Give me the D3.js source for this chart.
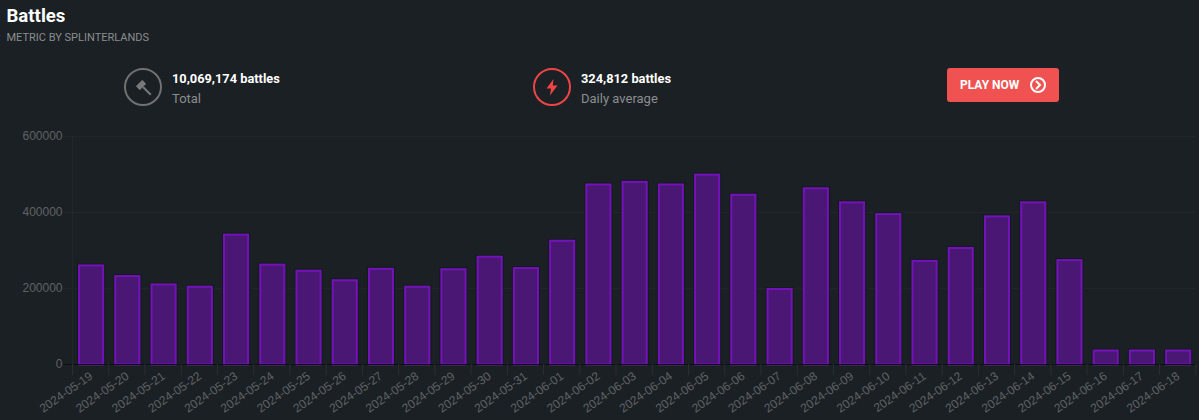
<!DOCTYPE html>
<html><head><meta charset="utf-8">
<script src="https://cdn.jsdelivr.net/npm/d3@7"></script>
<style>
html,body{margin:0;padding:0;background:#1b2024;overflow:hidden}
svg{display:block}
</style></head><body><svg id="c" width="1199" height="420"></svg>
<script>
const categories=["2024-05-19","2024-05-20","2024-05-21","2024-05-22","2024-05-23","2024-05-24","2024-05-25","2024-05-26","2024-05-27","2024-05-28","2024-05-29","2024-05-30","2024-05-31","2024-06-01","2024-06-02","2024-06-03","2024-06-04","2024-06-05","2024-06-06","2024-06-07","2024-06-08","2024-06-09","2024-06-10","2024-06-11","2024-06-12","2024-06-13","2024-06-14","2024-06-15","2024-06-16","2024-06-17","2024-06-18"];
const battles=[262000,234000,212000,206000,343000,264000,248000,223000,253000,206000,252000,285000,255000,327000,475000,482000,475000,501000,448000,200000,465000,428000,397000,274000,308000,391000,428000,276000,38000,38000,38000];
const yTicks=[0,200000,400000,600000];

const svg=d3.select("#c");
const roboto="Roboto, sans-serif", arial="'Liberation Sans', Arial, sans-serif";
const L=72.5,R=1195.8,T=136,B=364;
const x=d3.scaleBand().domain(categories).range([L,R]).paddingInner(0.28).paddingOuter(0.14);
const band=(R-L)/categories.length;
const y=d3.scaleLinear().domain([0,600000]).range([B,T]);

function text(xp,yp,s,size,weight,fill){
  return svg.append("text").attr("x",xp).attr("y",yp).text(s)
    .attr("font-family",roboto).attr("font-size",size).attr("font-weight",weight).attr("fill",fill);
}
text(6.5,22,"Battles",18.6,700,"#ffffff");
text(6.5,41,"METRIC BY SPLINTERLANDS",11,400,"#8a8d90");

// stat 1
svg.append("circle").attr("cx",143).attr("cy",87).attr("r",18).attr("fill","none").attr("stroke","#6f7173").attr("stroke-width",2);
const ham=svg.append("g").attr("transform","translate(143,87) rotate(-45)").attr("fill","#77797b");
ham.append("rect").attr("x",-4.5).attr("y",-5.5).attr("width",9).attr("height",5.5).attr("rx",.6);
ham.append("rect").attr("x",-1).attr("y",0).attr("width",2).attr("height",11);
text(172,83,"10,069,174 battles",12.8,700,"#ffffff");
text(172,103,"Total",13,400,"#8a8d90");

// stat 2
svg.append("circle").attr("cx",552).attr("cy",87).attr("r",18).attr("fill","none").attr("stroke","#ef4444").attr("stroke-width",2);
svg.append("path").attr("d","M553.5 79 L546.5 88.5 L551 88.5 L550 95.5 L557.5 85.5 L552.8 85.5 Z").attr("fill","#ef4444");
text(581,83,"324,812 battles",12.8,700,"#ffffff");
text(581,103,"Daily average",13,400,"#8a8d90");

// button
svg.append("rect").attr("x",947).attr("y",68).attr("width",112).attr("height",34).attr("rx",3).attr("fill","#f05252");
text(960,89,"PLAY NOW",12,700,"#ffffff");
svg.append("circle").attr("cx",1038).attr("cy",85).attr("r",7).attr("fill","none").attr("stroke","#fff").attr("stroke-width",2);
svg.append("path").attr("d","M1036 81 L1040 85 L1036 89").attr("fill","none").attr("stroke","#fff").attr("stroke-width",2);

// grid
const grid="#212629";
svg.append("g").selectAll("line").data(yTicks.filter(d=>d>0)).join("line")
  .attr("x1",L-9).attr("x2",R).attr("y1",d=>Math.floor(y(d))+.5).attr("y2",d=>Math.floor(y(d))+.5).attr("stroke",grid);
svg.append("line").attr("x1",L).attr("x2",L).attr("y1",T).attr("y2",B).attr("stroke",grid);

// y axis
const yAxis=svg.append("g").attr("transform",`translate(${L},0)`).call(d3.axisLeft(y).tickValues(yTicks).tickFormat(d=>String(d)).tickSize(0).tickPadding(10));
yAxis.select(".domain").remove();
yAxis.selectAll("text").attr("font-family",arial).attr("font-size",12).attr("fill","#5f6265");

// bar halo and bars
svg.append("g").selectAll("rect").data(battles).join("rect")
  .attr("x",(d,i)=>x(categories[i])).attr("y",d=>y(d)-.5)
  .attr("width",x.bandwidth()+1).attr("height",d=>B-y(d)+.5)
  .attr("fill","none").attr("stroke","#121b1b").attr("stroke-width",1);
svg.append("g").selectAll("rect").data(battles).join("rect")
  .attr("x",(d,i)=>x(categories[i])+1.5).attr("y",d=>y(d)+1)
  .attr("width",x.bandwidth()-2).attr("height",d=>B-y(d)-.5)
  .attr("fill","#4a1774").attr("stroke","#7412ba").attr("stroke-width",2);

// x axis
const xg=svg.append("g").attr("transform",`translate(0,${B})`);
xg.append("line").attr("x1",L-9).attr("x2",R).attr("y1",.5).attr("y2",.5).attr("stroke","#0e1113");
xg.selectAll("line.t").data(d3.range(categories.length+1)).join("line").attr("class","t")
  .attr("x1",i=>L+i*band).attr("x2",i=>L+i*band).attr("y1",0).attr("y2",11).attr("stroke","#2a2f32");
xg.selectAll("text").data(categories).join("text").text(d=>d)
  .attr("text-anchor","end").attr("font-family",arial).attr("font-size",12).attr("fill","#5f6265")
  .attr("transform",d=>`translate(${x(d)+x.bandwidth()/2-2},${7}) rotate(-35)`)
  .attr("dy","0.7em");
</script></body></html>
